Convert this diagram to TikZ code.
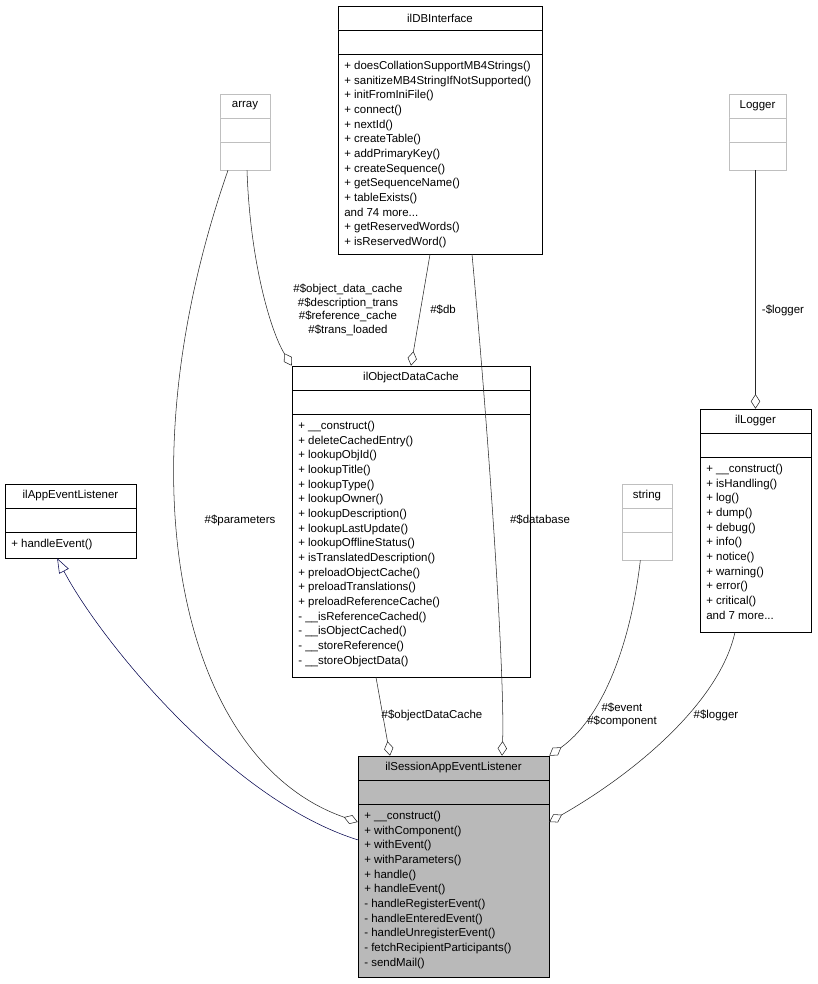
\documentclass[tikz,border=0pt]{standalone}
\usepackage{fontspec}
\setmainfont{Liberation Sans}
\usetikzlibrary{arrows.meta}
\newcommand\cbox[8]{%
  \node[#1,draw,rectangle,inner sep=0,minimum width={(#5-#3)*0.75pt},minimum height={(#6-#4)*0.75pt}] (#2) at ({(#3+#5)/2},{(#4+#6)/2}) {};
  \draw[#1] (#3,{#4+24}) -- (#5,{#4+24});
  \draw[#1] (#3,{#4+48}) -- (#5,{#4+48});
  \node[lbl] at ({(#3+#5)/2},{#4+12}) {#7};
  \node[lbl,anchor=north west,align=left,font=\fontsize{8.6}{11}\selectfont] at ({#3+6},{#4+55}) {#8};
}
\begin{document}
\begin{tikzpicture}[x=0.75pt,y=-0.75pt,
  lbl/.style={font=\fontsize{8.6}{10.3}\selectfont,inner sep=0,align=center,text=black},
  cls/.style={draw=black,fill=white},
  ext/.style={draw=gray!50,fill=white},
  cur/.style={draw=black,fill=gray!55},
  agg/.style={draw=gray!30!black,{Diamond[open,fill=white,length=11pt,width=7pt]}-},
  inh/.style={draw=blue!30!black,-{Triangle[open,fill=white,length=11pt,width=8pt]}}]
\useasboundingbox (0,0) rectangle (817,984);
\cbox{cls}{db}{338}{6}{542}{254}{ilDBInterface}{+ doesCollationSupportMB4Strings()\\+ sanitizeMB4StringIfNotSupported()\\+ initFromIniFile()\\+ connect()\\+ nextId()\\+ createTable()\\+ addPrimaryKey()\\+ createSequence()\\+ getSequenceName()\\+ tableExists()\\and 74 more...\\+ getReservedWords()\\+ isReservedWord()}
\cbox{ext}{arr}{220}{94}{270}{170}{array}{}
\cbox{ext}{lg}{729}{94}{786}{170}{Logger}{}
\cbox{cls}{odc}{292}{366}{530}{677}{ilObjectDataCache}{+ \_\_construct()\\+ deleteCachedEntry()\\+ lookupObjId()\\+ lookupTitle()\\+ lookupType()\\+ lookupOwner()\\+ lookupDescription()\\+ lookupLastUpdate()\\+ lookupOfflineStatus()\\+ isTranslatedDescription()\\+ preloadObjectCache()\\+ preloadTranslations()\\+ preloadReferenceCache()\\- \_\_isReferenceCached()\\- \_\_isObjectCached()\\- \_\_storeReference()\\- \_\_storeObjectData()}
\cbox{cls}{ael}{5}{484}{136}{558}{ilAppEventListener}{+ handleEvent()}
\cbox{ext}{str}{622}{484}{672}{560}{string}{}
\cbox{cls}{ilg}{700}{409}{811}{632}{ilLogger}{+ \_\_construct()\\+ isHandling()\\+ log()\\+ dump()\\+ debug()\\+ info()\\+ notice()\\+ warning()\\+ error()\\+ critical()\\and 7 more...}
\cbox{cur}{sess}{358}{756}{549}{977}{ilSessionAppEventListener}{+ \_\_construct()\\+ withComponent()\\+ withEvent()\\+ withParameters()\\+ handle()\\+ handleEvent()\\- handleRegisterEvent()\\- handleEnteredEvent()\\- handleUnregisterEvent()\\- fetchRecipientParticipants()\\- sendMail()}
% inheritance
\draw[inh] ([yshift=20pt]sess.west) .. controls (230,800) and (100,640) .. ([xshift=-10pt]ael.south);
% aggregations
\draw[agg] ([yshift=33.4pt]sess.west) .. controls (180,760) and (120,480) .. ([xshift=-12.75pt]arr.south);
\node[lbl] at (240,520) {\#\$parameters};
\draw[agg] (odc.north west) .. controls (270,330) and (250,260) .. ([xshift=1.5pt]arr.south);
\node[lbl] at (348,310) {\#\$object\_data\_cache\\\#\$description\_trans\\\#\$reference\_cache\\\#\$trans\_loaded};
\draw[agg] (odc.north) -- ([xshift=-7.5pt]db.south);
\node[lbl] at (443,310) {\#\$db};
\draw[agg] ([xshift=36.4pt]sess.north) .. controls (505,680) and (490,450) .. ([xshift=24pt]db.south);
\node[lbl] at (540,520) {\#\$database};
\draw[agg] ([xshift=-47.6pt]sess.north) -- ([xshift=-26.25pt]odc.south);
\node[lbl] at (432,715) {\#\$objectDataCache};
\draw[agg] (sess.north east) .. controls (600,720) and (630,650) .. ([xshift=-5pt]str.south);
\node[lbl] at (622,715) {\#\$event\\\#\$component};
\draw[agg] (ilg.north) -- (ilg.north |- lg.south);
\node[lbl] at (783,310) {-\$logger};
\draw[agg] ([yshift=33.4pt]sess.east) .. controls (640,770) and (720,700) .. ([xshift=-15.4pt]ilg.south);
\node[lbl] at (716,715) {\#\$logger};
\end{tikzpicture}
\end{document}
